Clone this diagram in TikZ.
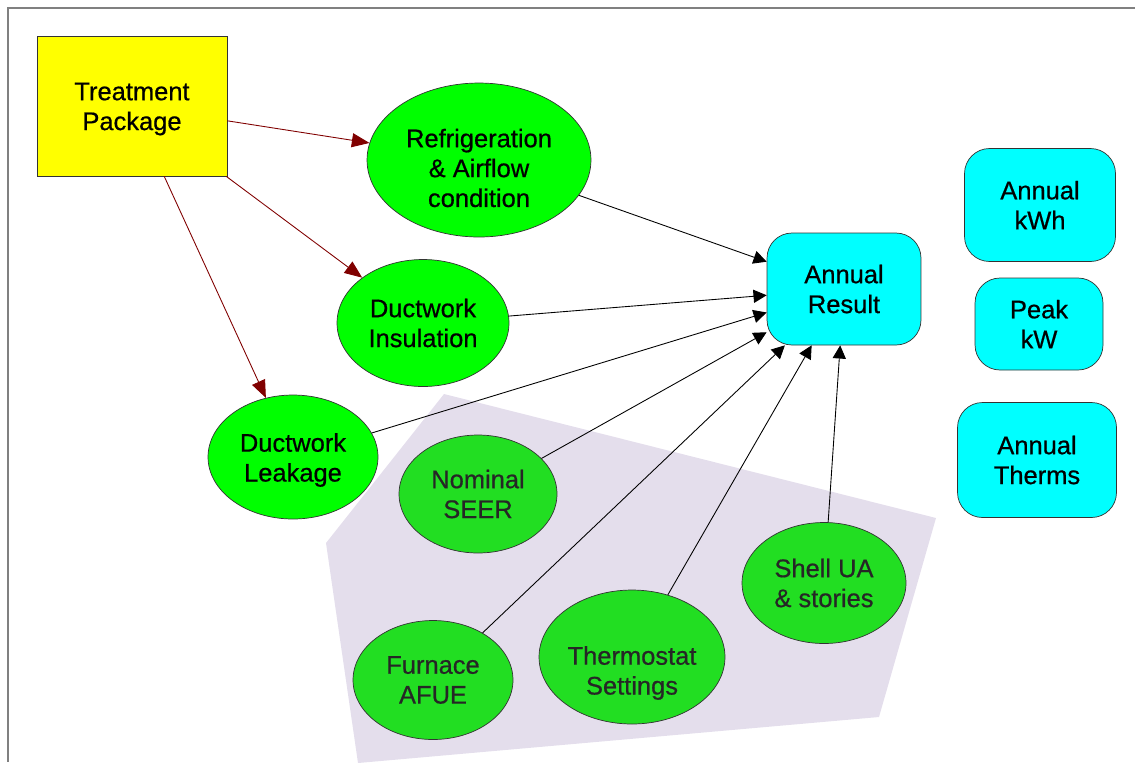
\documentclass[tikz,border=0pt]{standalone}
\usepackage{fontspec}
\setmainfont{Liberation Sans}[FakeBold=0.6]
\usetikzlibrary{shapes.geometric,arrows.meta}
\definecolor{pkgyellow}{RGB}{255,255,0}
\definecolor{brightgreen}{RGB}{0,255,0}
\definecolor{inputgreen}{RGB}{34,222,34}
\definecolor{resultcyan}{RGB}{0,255,255}
\definecolor{groupbg}{RGB}{228,222,236}
\definecolor{darkred}{RGB}{128,0,0}
\definecolor{framegray}{RGB}{128,128,128}

\begin{document}
\begin{tikzpicture}[x=0.02cm,y=-0.02cm,
    every node/.style={font=\fontsize{14.5}{17}\selectfont,align=center,inner sep=0pt},
    pkgbox/.style={draw=black!80,fill=pkgyellow,minimum width=3.8cm,minimum height=2.8cm},
    mid/.style={ellipse,draw=black!80,fill=brightgreen},
    inp/.style={ellipse,draw=black!80,fill=inputgreen,text=black!85},
    result/.style={draw=black!80,fill=resultcyan,rounded corners=0.5cm},
    redarr/.style={-{Triangle[length=10pt,width=8pt]},darkred,line width=0.5pt},
    blkarr/.style={-{Triangle[length=7.5pt,width=7.5pt]},black,line width=0.5pt}]
  \useasboundingbox (0,0) rectangle (1135,762);
  % frame and shaded group
  \draw[framegray,line width=1.1pt] (1135,8) -- (8,8) -- (8,762);
  \fill[groupbg] (444,394) -- (936,518) -- (879,717) -- (358,763) -- (326,543) -- cycle;

  \node[pkgbox] (tp) at (132,106) {};
  \node (tptext) at (132,109) {Treatment\\Package};
  \node[mid,minimum width=4.48cm,minimum height=3.08cm] (refrig) at (479,160) {};
  \node (refrigtext) at (479,168) {Refrigeration\\\& Airflow\\condition};
  \node[mid,minimum width=3.44cm,minimum height=2.54cm] (ductins) at (423,323) {Ductwork\\Insulation};
  \node[mid,minimum width=3.4cm,minimum height=2.48cm] (ductleak) at (293,457) {};
  \node (ductleaktext) at (293,460) {Ductwork\\Leakage};

  \node[inp,minimum width=3.16cm,minimum height=2.36cm] (seer) at (478,494) {Nominal\\SEER};
  \node[inp,minimum width=3.2cm,minimum height=2.38cm] (afue) at (433,680) {Furnace\\AFUE};
  \node[inp,minimum width=3.72cm,minimum height=2.68cm] (tstat) at (632,657) {};
  \node[text=black!85] (tstattext) at (632,673) {Thermostat\\Settings};
  \node[inp,minimum width=3.28cm,minimum height=2.42cm] (shell) at (824,583) {Shell UA\\\& stories};

  \node[result,minimum width=3.08cm,minimum height=2.24cm] (annres) at (844,289) {Annual\\Result};
  \node[result,minimum width=3.02cm,minimum height=2.26cm] (kwh) at (1040,205) {Annual\\kWh};
  \node[result,minimum width=2.56cm,minimum height=1.84cm] (peak) at (1039,324) {Peak\\kW};
  \node[result,minimum width=3.18cm,minimum height=2.3cm] (therms) at (1037,460) {Annual\\Therms};

  \draw[redarr] (tp) -- (refrig);
  \draw[redarr] (tp) -- (ductins);
  \draw[redarr] (tp) -- (ductleak);

  \foreach \src in {refrig,ductins,ductleak,seer,afue,tstat,shell}
    \draw[blkarr] (\src) -- (annres);
\end{tikzpicture}
\end{document}
